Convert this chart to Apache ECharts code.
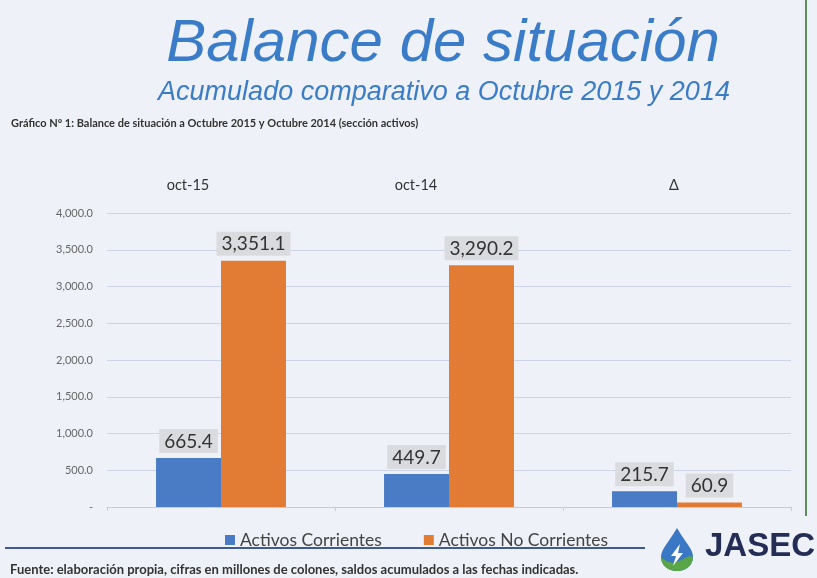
<!DOCTYPE html>
<html>
<head>
<meta charset="utf-8">
<script src="https://cdn.jsdelivr.net/npm/echarts@6/dist/echarts.min.js"></script>
<style>
html,body{margin:0;padding:0;background:#eef1f7;}
#c{width:817px;height:578px;}
</style>
</head>
<body>
<div id="c"></div>
<script>
const categories = ['oct-15', 'oct-14', 'Δ'];
const seriesNames = ['Activos Corrientes', 'Activos No Corrientes'];
const corrientes = [665.4, 449.7, 215.7];
const noCorrientes = [3351.1, 3290.2, 60.9];
const yTicks = { min: 0, max: 4000, interval: 500 };

function fmt(v) {
  const s = v.toFixed(1);
  const parts = s.split('.');
  parts[0] = parts[0].replace(/\B(?=(\d{3})+(?!\d))/g, ',');
  return parts.join('.');
}

// logo drop outline points
function cubic(p0, p1, p2, p3, n) {
  const out = [];
  for (let i = 0; i <= n; i++) {
    const t = i / n, u = 1 - t;
    out.push([
      u*u*u*p0[0] + 3*u*u*t*p1[0] + 3*u*t*t*p2[0] + t*t*t*p3[0],
      u*u*u*p0[1] + 3*u*u*t*p1[1] + 3*u*t*t*p2[1] + t*t*t*p3[1]
    ]);
  }
  return out;
}
const dy = 3;
function sh(pts) { return pts.map(p => [p[0], p[1] + dy]); }
const dropPts = sh([].concat(
  cubic([677,525],[669,539],[661,546],[661,554],12),
  cubic([661,554],[661,562],[668,568],[677,568],12),
  cubic([677,568],[686,568],[693,562],[693,554],12),
  cubic([693,554],[693,546],[685,539],[677,525],12)
));
const greenPts = sh([].concat(
  cubic([661,554],[661,562],[668,568],[677,568],12),
  cubic([677,568],[686,568],[693,562],[693,554],12),
  cubic([693,554],[689,551],[683,557],[677,559],8),
  cubic([677,559],[671,561],[665,558],[661,554],8)
));
const boltPts = sh([[680, 541], [671, 553], [676, 553], [673, 563], [683, 550], [678, 550]]);

const chart = echarts.init(document.getElementById('c'), null, { renderer: 'canvas' });
const labelFont = 'Lato, "Open Sans", sans-serif';

const dataLabel = {
  show: true,
  position: 'top',
  distance: 5,
  formatter: p => fmt(p.value),
  fontFamily: labelFont,
  fontSize: 19,
  color: '#333',
  backgroundColor: '#dadbdf',
  padding: [3, 5, 2, 5]
};

chart.setOption({
  backgroundColor: '#eef1f7',
  animation: false,
  title: [
    {
      text: 'Balance de situación',
      left: 438, top: 9, textAlign: 'center',
      textStyle: { fontFamily: '"Liberation Sans", Arial, sans-serif', fontStyle: 'italic', fontWeight: 'normal', fontSize: 60, color: '#3b7cc9' }
    },
    {
      text: 'Acumulado comparativo a Octubre 2015 y 2014',
      left: 439, top: 74, textAlign: 'center',
      textStyle: { fontFamily: '"Liberation Sans", Arial, sans-serif', fontStyle: 'italic', fontWeight: 'normal', fontSize: 27, color: '#3b7cc9' }
    },
    {
      text: 'Gráfico Nº 1: Balance de situación a Octubre 2015 y Octubre 2014 (sección activos)',
      left: 6, top: 113,
      textStyle: { fontFamily: labelFont, fontWeight: 'bold', fontSize: 11, color: '#333' }
    },
    {
      text: 'Fuente: elaboración propia, cifras en millones de colones, saldos acumulados a las fechas indicadas.',
      left: 5, top: 558,
      textStyle: { fontFamily: labelFont, fontWeight: 'bold', fontSize: 13, color: '#333' }
    }
  ],
  legend: {
    data: seriesNames,
    left: 220, top: 526,
    itemWidth: 10, itemHeight: 10, itemGap: 42,
    icon: 'rect',
    textStyle: { fontFamily: labelFont, fontSize: 17.5, color: '#444' }
  },
  grid: { left: 107, right: 26, top: 213, bottom: 71 },
  xAxis: [
    {
      type: 'category',
      data: categories,
      position: 'top',
      axisLine: { show: false },
      axisTick: { show: false },
      axisLabel: {
        margin: 20,
        fontFamily: labelFont,
        fontSize: 14,
        color: '#333',
        formatter: (v, i) => i < 2 ? '{a|' + v + '}' : '{b|' + v + '}',
        rich: {
          a: { fontFamily: labelFont, fontSize: 14.5, color: '#333', padding: [0, 66, 0, 0] },
          b: { fontFamily: labelFont, fontSize: 14.5, color: '#333', padding: [0, 6, 0, 0] }
        }
      }
    },
    {
      type: 'category',
      data: categories,
      position: 'bottom',
      axisLine: { show: true, lineStyle: { color: '#c9ccd6', width: 1 } },
      axisTick: { show: true, length: 4, lineStyle: { color: '#c9ccd6' } },
      axisLabel: { show: false }
    }
  ],
  yAxis: {
    type: 'value',
    min: yTicks.min, max: yTicks.max, interval: yTicks.interval,
    axisLine: { show: false },
    axisTick: { show: false },
    axisLabel: {
      margin: 14,
      fontFamily: labelFont,
      fontSize: 11,
      color: '#666',
      formatter: v => v === 0 ? '-' : fmt(v)
    },
    splitLine: { lineStyle: { color: '#cdd3e6', width: 1 } }
  },
  series: [
    {
      name: seriesNames[0],
      type: 'bar',
      data: corrientes,
      barGap: '0%',
      barCategoryGap: '43%',
      itemStyle: { color: '#4a7cc6' },
      label: dataLabel
    },
    {
      name: seriesNames[1],
      type: 'bar',
      data: noCorrientes,
      barGap: '0%',
      barCategoryGap: '43%',
      itemStyle: { color: '#e27c34' },
      label: dataLabel
    }
  ],
  graphic: [
    { type: 'rect', shape: { x: 5, y: 547, width: 640, height: 2 }, style: { fill: '#3d5a96' } },
    { type: 'rect', shape: { x: 805, y: 0, width: 2, height: 516 }, style: { fill: '#5d8c5d' } },
    { type: 'polygon', shape: { points: dropPts }, style: { fill: '#3a78c6' } },
    { type: 'polygon', shape: { points: greenPts }, style: { fill: '#5aa548' } },
    { type: 'polygon', shape: { points: boltPts }, style: { fill: '#ffffff' } },
    {
      type: 'text',
      style: { text: 'JASEC', x: 705, y: 547, verticalAlign: 'middle', fontFamily: '"Liberation Sans", Arial, sans-serif', fontWeight: 'bold', fontSize: 33, fill: '#232d55' }
    }
  ]
});
</script>
</body>
</html>
